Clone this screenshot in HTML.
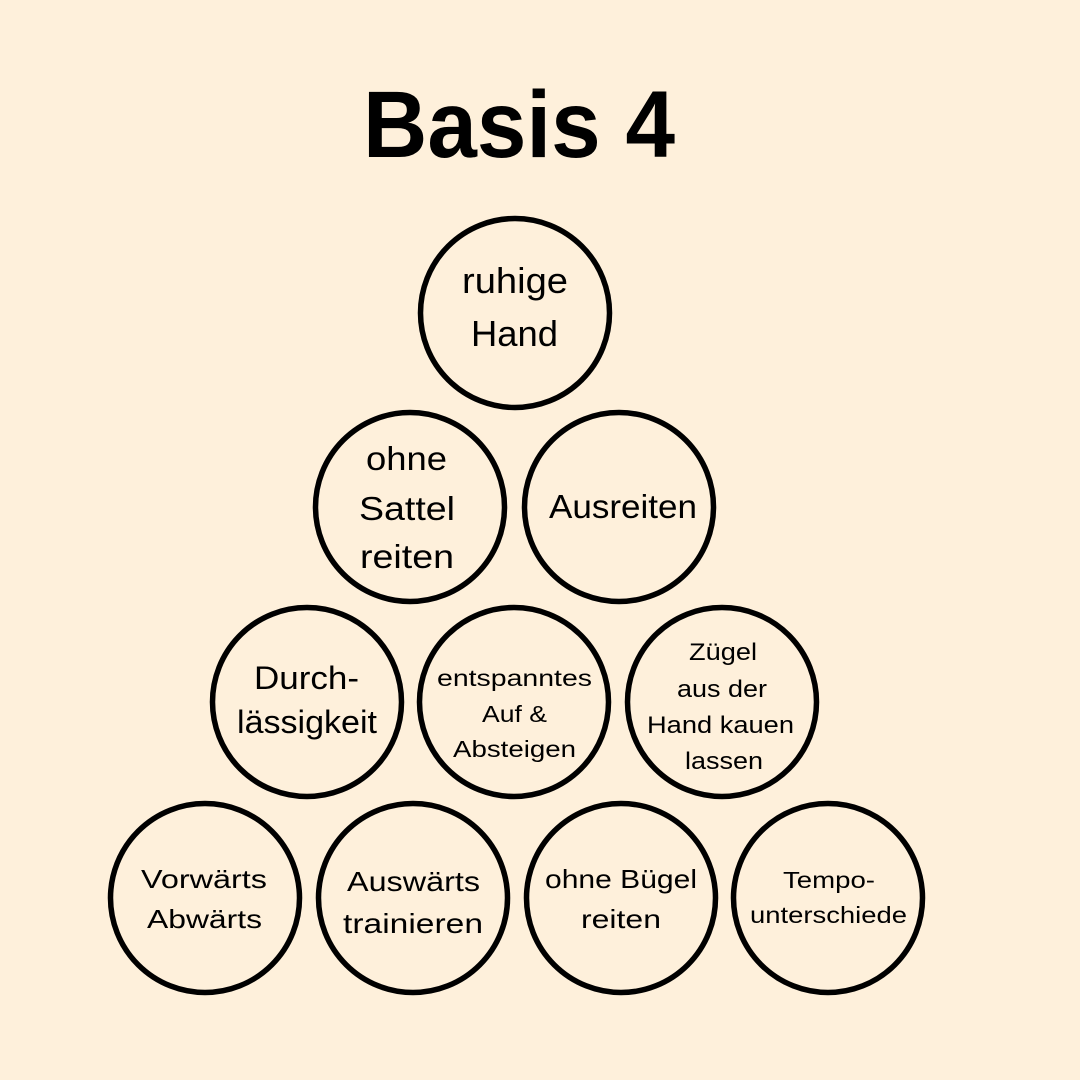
<!DOCTYPE html>
<html>
<head>
<meta charset="utf-8">
<style>
  html,body{margin:0;padding:0;background:#fef0db;}
  svg{display:block;}
  text{font-family:"Liberation Sans", sans-serif;fill:#000;}
</style>
</head>
<body>
<svg width="1080" height="1080" viewBox="0 0 1080 1080" xmlns="http://www.w3.org/2000/svg">
  <rect width="1080" height="1080" fill="#fef0db"/>
  <text x="519" y="157" font-size="95" font-weight="bold" text-anchor="middle" textLength="312" lengthAdjust="spacingAndGlyphs">Basis 4</text>

  <g fill="none" stroke="#000" stroke-width="5.5">
    <circle cx="515" cy="313" r="94.5"/>
    <circle cx="410" cy="507" r="94.5"/>
    <circle cx="619" cy="507" r="94.5"/>
    <circle cx="307" cy="702" r="94.5"/>
    <circle cx="514" cy="702" r="94.5"/>
    <circle cx="722" cy="702" r="94.5"/>
    <circle cx="205" cy="898" r="94.5"/>
    <circle cx="413" cy="898" r="94.5"/>
    <circle cx="621" cy="898" r="94.5"/>
    <circle cx="828" cy="898" r="94.5"/>
  </g>

  <g text-anchor="middle" lengthAdjust="spacingAndGlyphs">
    <text x="515" y="293" font-size="36" textLength="106" lengthAdjust="spacingAndGlyphs">ruhige</text>
    <text x="514.5" y="346" font-size="36" textLength="87" lengthAdjust="spacingAndGlyphs">Hand</text>

    <text x="406.5" y="470" font-size="33" textLength="81" lengthAdjust="spacingAndGlyphs">ohne</text>
    <text x="407" y="520" font-size="33" textLength="96" lengthAdjust="spacingAndGlyphs">Sattel</text>
    <text x="407" y="568" font-size="33" textLength="94" lengthAdjust="spacingAndGlyphs">reiten</text>

    <text x="623" y="518" font-size="33" textLength="148" lengthAdjust="spacingAndGlyphs">Ausreiten</text>

    <text x="306.5" y="689" font-size="32" textLength="105" lengthAdjust="spacingAndGlyphs">Durch-</text>
    <text x="307" y="733" font-size="32" textLength="140" lengthAdjust="spacingAndGlyphs">lässigkeit</text>

    <text x="514.5" y="686" font-size="23.5" textLength="155" lengthAdjust="spacingAndGlyphs">entspanntes</text>
    <text x="514.5" y="722" font-size="23.5" textLength="65" lengthAdjust="spacingAndGlyphs">Auf &amp;</text>
    <text x="514.5" y="757" font-size="23.5" textLength="123" lengthAdjust="spacingAndGlyphs">Absteigen</text>

    <text x="723" y="660" font-size="24" textLength="68" lengthAdjust="spacingAndGlyphs">Zügel</text>
    <text x="722" y="697" font-size="24" textLength="90" lengthAdjust="spacingAndGlyphs">aus der</text>
    <text x="720.5" y="733" font-size="24" textLength="147" lengthAdjust="spacingAndGlyphs">Hand kauen</text>
    <text x="724" y="769" font-size="24" textLength="78" lengthAdjust="spacingAndGlyphs">lassen</text>

    <text x="204" y="888" font-size="26" textLength="126" lengthAdjust="spacingAndGlyphs">Vorwärts</text>
    <text x="204.5" y="928" font-size="26" textLength="115" lengthAdjust="spacingAndGlyphs">Abwärts</text>

    <text x="413.5" y="891" font-size="28" textLength="133" lengthAdjust="spacingAndGlyphs">Auswärts</text>
    <text x="413" y="933" font-size="28" textLength="140" lengthAdjust="spacingAndGlyphs">trainieren</text>

    <text x="621" y="888" font-size="26" textLength="152" lengthAdjust="spacingAndGlyphs">ohne Bügel</text>
    <text x="621" y="928" font-size="26" textLength="80" lengthAdjust="spacingAndGlyphs">reiten</text>

    <text x="829" y="888" font-size="23.5" textLength="92" lengthAdjust="spacingAndGlyphs">Tempo-</text>
    <text x="828.5" y="923" font-size="23.5" textLength="157" lengthAdjust="spacingAndGlyphs">unterschiede</text>
  </g>
</svg>
</body>
</html>
